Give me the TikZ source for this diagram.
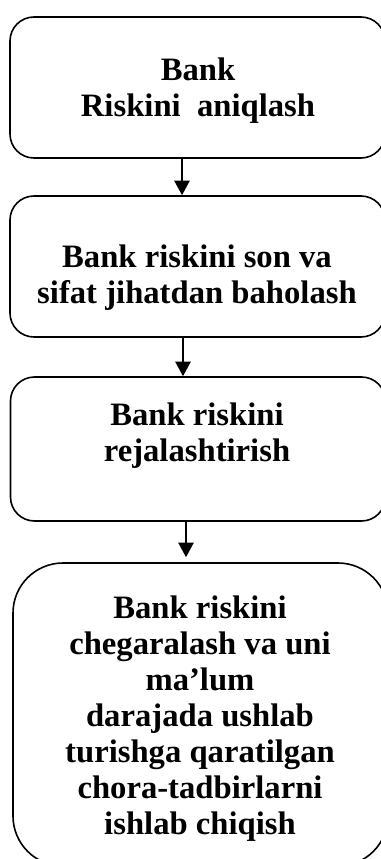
\documentclass[tikz,border=0pt]{standalone}
\usepackage{fontspec}
\setmainfont{Liberation Serif}
\usetikzlibrary{arrows.meta}
\begin{document}
\begin{tikzpicture}[x=0.75pt,y=-0.75pt,
  boxnode/.style={draw, line width=1.2pt, rounded corners=18pt, minimum width=281.25pt, inner sep=0pt},
  txt/.style={anchor=north, align=center, inner sep=0pt, font=\fontsize{24.5pt}{27pt}\selectfont\bfseries},
  arr/.style={line width=1.5pt, -{Triangle[length=11pt,width=11.5pt]}}]
\useasboundingbox (0,0) rectangle (381,859);
% boxes
\node[boxnode, minimum height=105.75pt] (b1) at (197.5,87.5) {};
\node[boxnode, minimum height=105.75pt] (b2) at (197.5,266.5) {};
\node[boxnode, minimum height=108pt] (b3) at (198,449) {};
\node[boxnode, minimum height=227.25pt, rounded corners=37.5pt] (b4) at (200.5,714.5) {};
% texts
\node[txt] (t1) at (198,57.7) {Bank\\Riskini~ aniqlash};
\node[txt] (t2) at (197,244.2) {Bank riskini son va\\sifat jihatdan baholash};
\node[txt] (t3) at (197,402.7) {Bank riskini\\rejalashtirish};
\node[txt] (t4) at (200,595.7) {Bank riskini\\chegaralash va uni\\ma’lum\\darajada ushlab\\turishga qaratilgan\\chora-tadbirlarni\\ishlab chiqish};
% connectors
\coordinate (a1) at (182,0);
\coordinate (a2) at (183,0);
\coordinate (a3) at (186,0);
\draw[arr] (b1.south -| a1) -- (b2.north -| a1);
\draw[arr] (b2.south -| a2) -- (b3.north -| a2);
\draw[arr, shorten >=3.75pt] (b3.south -| a3) -- (b4.north -| a3);
\end{tikzpicture}
\end{document}
